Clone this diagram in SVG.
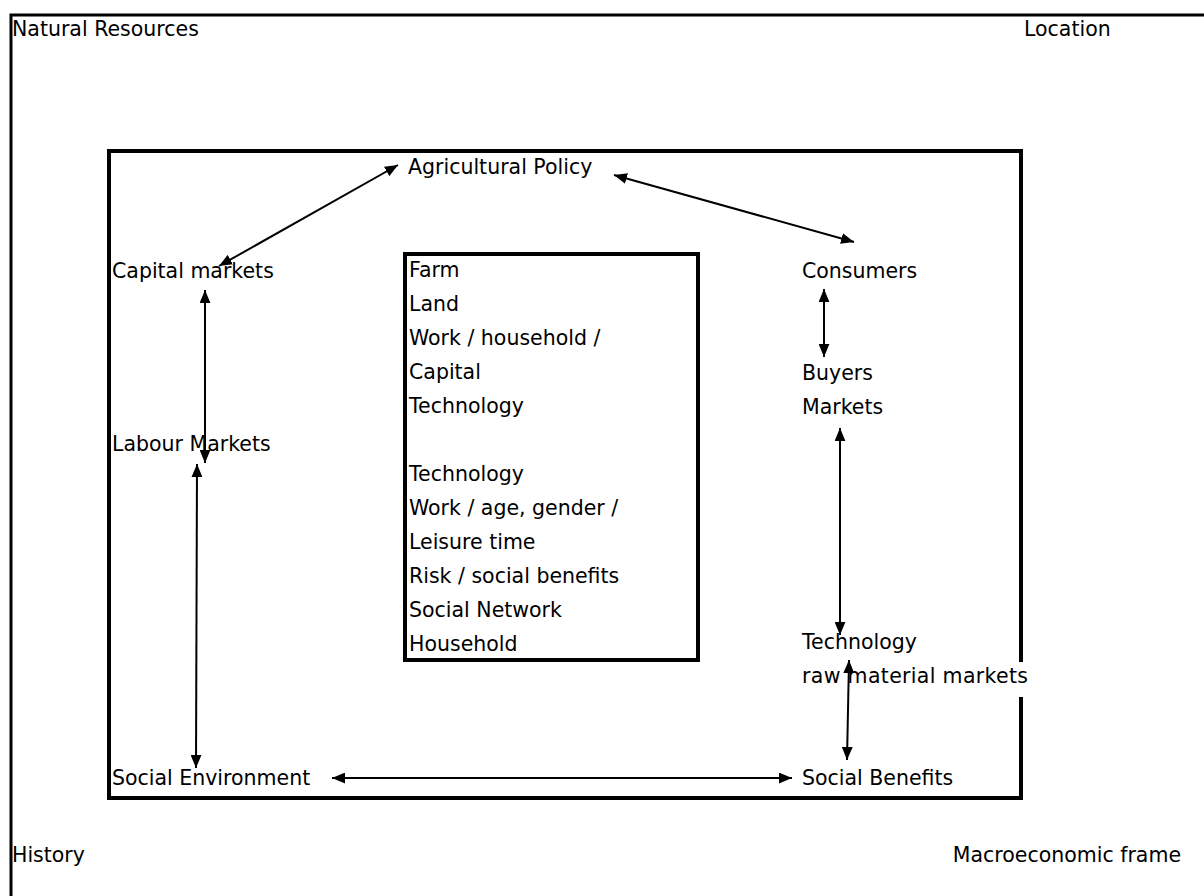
<svg xmlns="http://www.w3.org/2000/svg" width="1204" height="896" viewBox="0 0 1204 896">
<defs>
<marker id="ah" viewBox="0 0 12 10" refX="12" refY="5" markerWidth="13" markerHeight="11" markerUnits="userSpaceOnUse" orient="auto-start-reverse">
<path d="M0,0 L12,5 L0,10 z" fill="#000"/>
</marker>
<style>
text{font-family:"DejaVu Sans",Verdana,sans-serif;font-size:20.5px;fill:#000}
.c{stroke:#000;stroke-width:2;fill:none;marker-start:url(#ah);marker-end:url(#ah)}
.f{fill:none;stroke:#000;stroke-width:4}
</style>
</defs>
<rect width="1204" height="896" fill="#fff"/>
<g id="frame">
<path d="M11,896 V15 H1204" fill="none" stroke="#000" stroke-width="3"/>
<path class="f" d="M1021,697 V798 H109 V151 H1021 V662"/>
</g>
<g id="corners">
<text x="12" y="36">Natural Resources</text>
<text x="1024" y="36">Location</text>
<text x="12" y="862">History</text>
<text x="1181" y="862" text-anchor="end">Macroeconomic frame</text>
</g>
<g id="agricultural-policy"><text x="408" y="174">Agricultural Policy</text></g>
<g id="capital-markets"><text x="112" y="278">Capital markets</text></g>
<g id="consumers"><text x="802" y="278">Consumers</text></g>
<g id="buyers-markets"><text x="802" y="380">Buyers</text><text x="802" y="414">Markets</text></g>
<g id="labour-markets"><text x="112" y="451">Labour Markets</text></g>
<g id="technology-raw"><text x="802" y="649">Technology</text><text x="802" y="683" textLength="226">raw material markets</text></g>
<g id="social-environment"><text x="112" y="785">Social Environment</text></g>
<g id="social-benefits"><text x="802" y="785">Social Benefits</text></g>
<g id="farm">
<rect x="405" y="254" width="293" height="406" fill="#fff" stroke="#000" stroke-width="4"/>
<text x="409" y="277">Farm</text>
<text x="409" y="311">Land</text>
<text x="409" y="345">Work / household /</text>
<text x="409" y="379">Capital</text>
<text x="409" y="413">Technology</text>
<text x="409" y="481">Technology</text>
<text x="409" y="515">Work / age, gender /</text>
<text x="409" y="549">Leisure time</text>
<text x="409" y="583">Risk / social benefits</text>
<text x="409" y="617">Social Network</text>
<text x="409" y="651">Household</text>
</g>
<g id="connectors">
<line class="c" x1="398" y1="165" x2="219" y2="266"/>
<line class="c" x1="614" y1="175" x2="854" y2="242"/>
<line class="c" x1="205" y1="290" x2="205" y2="463"/>
<line class="c" x1="824" y1="289" x2="824" y2="357"/>
<line class="c" x1="840" y1="428" x2="840" y2="635"/>
<line class="c" x1="197" y1="464" x2="196" y2="768"/>
<line class="c" x1="849" y1="660" x2="847" y2="760"/>
<line class="c" x1="332" y1="778" x2="792" y2="778"/>
</g>
</svg>
